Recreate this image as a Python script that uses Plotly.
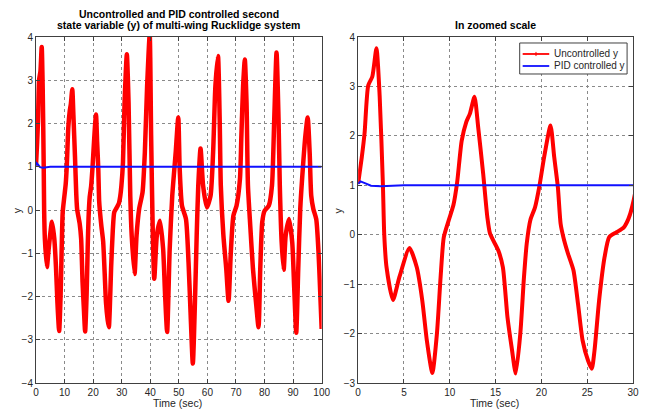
import plotly.graph_objects as go

# ---------------- data ----------------
t_unc = [0.0, 0.4, 0.7, 1.1, 1.55, 2.0, 2.35, 2.7, 2.85, 3.1, 3.8, 4.5, 5.6, 6.4, 7.0, 7.5, 8.1,
         8.6, 9.0, 9.35, 9.9, 10.4, 10.8, 11.3, 11.8, 12.2, 12.7, 13.1, 13.65, 14.1, 14.4, 15.3,
         15.8, 16.3, 16.8, 17.2, 17.7, 18.1, 18.4, 18.8, 19.3, 19.8, 20.3, 21.0, 21.4, 21.8, 22.1,
         22.4, 22.9, 23.5, 24.0, 24.5, 25.1, 25.5, 25.8, 26.3, 26.9, 27.4, 28.2, 29.0, 29.5, 29.9,
         30.45, 31.0, 31.8, 32.4, 33.0, 33.5, 34.5, 35.2, 36.1, 37.3, 38.1, 38.9, 39.8, 40.3, 40.9,
         41.4, 42.3, 43.4, 44.5, 45.2, 45.9, 46.8, 47.7, 48.9, 49.8, 50.3, 51.1, 52.5, 53.4, 54.1,
         54.9, 55.7, 56.25, 56.8, 57.6, 58.5, 59.8, 61.1, 62.0, 62.8, 63.7, 64.3, 64.7, 65.6, 66.6,
         67.4, 68.2, 69.1, 70.2, 71.4, 71.9, 72.5, 73.1, 73.7, 74.2, 75.0, 75.95, 77.1, 77.9, 78.5,
         79.2, 80.0, 81.5, 82.6, 83.4, 84.2, 84.9, 85.35, 86.0, 86.7, 87.4, 88.6, 89.7, 90.4, 91.1,
         91.8, 92.5, 93.4, 94.3, 95.1, 95.8, 96.35, 97.1, 98.1, 98.9, 99.4, 100.0]
y_unc = [1.03, 1.57, 2.05, 3.02, 3.2, 3.77, 2.8, 1.03, 0.0, -0.66, -1.32, -0.86, -0.27, -0.66, -1.33, -2.14, -2.80,
         -2.0, -0.86, -0.05, 0.3, 0.6, 1.05, 1.9, 2.28, 2.45, 2.79, 2.18, 1.23, 0.36, 0.02, -0.32,
         -0.66, -1.67, -2.34, -2.81, -2.0, -0.86, -0.18, 0.3, 0.55, 1.0, 1.57, 2.21, 1.57, 0.96, 0.22,
         -0.05, -0.38, -0.72, -1.40, -2.14, -2.55, -2.71, -2.34, -1.33, -0.45, -0.05, 0.05, 0.15, 0.32, 0.56,
         1.1, 2.48, 3.6, 2.48, 0.33, -0.59, -1.48, -0.59, 0.02, 0.41, 1.33, 2.87, 4.05, 1.72, -0.59,
         -1.59, -0.59, -0.25, -0.9, -1.98, -2.82, -0.9, 0.33, 1.33, 2.14, 0.95, 0.1, -0.21, -1.21, -2.36,
         -3.55, -1.98, -0.59, 0.56, 1.42, 0.56, 0.06, 0.33, 1.33, 2.87, 3.56, 2.1, 0.56, -0.59, -1.36,
         -2.1, -0.98, -0.13, 0.1, 0.72, 1.72, 2.87, 3.48, 2.48, 0.56, -0.36, -1.36, -2.2, -2.71, -1.36,
         -0.28, -0.02, 0.1, 0.56, 2.1, 3.64, 2.1, 0.56, -0.75, -1.38, -0.59, -0.21, -0.75, -1.82, -2.84,
         -1.36, 0.02, 0.95, 1.72, 2.14, 1.33, 0.33, 0.02, -0.21, -0.98, -1.75, -2.75]

t_pid = [0.0, 0.25, 0.8, 1.4, 2.5, 3.8, 5.0, 30.0, 100.0]
y_pid = [1.03, 1.08, 1.04, 0.99, 0.98, 0.995, 1.0, 1.0, 1.0]

x_ticks_full = [0, 10, 20, 30, 40, 50, 60, 70, 80, 90, 100]
y_ticks_full = [-4, -3, -2, -1, 0, 1, 2, 3, 4]
x_ticks_zoom = [0, 5, 10, 15, 20, 25, 30]
y_ticks_zoom = [-3, -2, -1, 0, 1, 2, 3, 4]

legend_names = ["Uncontrolled y", "PID controlled y"]

# ---------------- figure ----------------
FONT = "Liberation Sans, Arial, Helvetica, sans-serif"
RED = "#ff0000"
BLUE = "#1010ff"

fig = go.Figure()

# full view
fig.add_trace(go.Scatter(x=t_unc, y=y_unc, mode="lines", xaxis="x", yaxis="y",
                         name=legend_names[0],
                         line=dict(color=RED, width=4.5, shape="spline", smoothing=0.6),
                         showlegend=False, hoverinfo="skip"))
fig.add_trace(go.Scatter(x=t_pid, y=y_pid, mode="lines", xaxis="x", yaxis="y",
                         name=legend_names[1],
                         line=dict(color=BLUE, width=2),
                         showlegend=False, hoverinfo="skip"))
# zoomed view
fig.add_trace(go.Scatter(x=t_unc, y=y_unc, mode="lines", xaxis="x2", yaxis="y2",
                         name=legend_names[0],
                         line=dict(color=RED, width=4, shape="spline", smoothing=0.6),
                         showlegend=False, hoverinfo="skip"))
fig.add_trace(go.Scatter(x=t_pid, y=y_pid, mode="lines", xaxis="x2", yaxis="y2",
                         name=legend_names[1],
                         line=dict(color=BLUE, width=2),
                         showlegend=False, hoverinfo="skip"))

axis_common = dict(
    showline=True, linecolor="#404040", linewidth=1, mirror="ticks",
    ticks="inside", ticklen=4, tickcolor="#404040",
    showgrid=True, gridcolor="#8a8a8a", griddash="dot", gridwidth=1,
    zeroline=False, tickfont=dict(family=FONT, size=10, color="#262626"),
)

fig.update_layout(
    width=652, height=410,
    margin=dict(l=36, r=10, t=37, b=27),
    paper_bgcolor="white", plot_bgcolor="white",
    font=dict(family=FONT, size=10, color="#262626"),
    xaxis=dict(domain=[0, 0.4785], range=[0, 100], tickvals=x_ticks_full, anchor="y", **axis_common),
    yaxis=dict(domain=[0, 1], range=[-4, 4], tickvals=y_ticks_full, anchor="x", **axis_common),
    xaxis2=dict(domain=[0.5396, 1], range=[0, 30], tickvals=x_ticks_zoom, anchor="y2", **axis_common),
    yaxis2=dict(domain=[0, 1], range=[-3, 4], tickvals=y_ticks_zoom, anchor="x2", **axis_common),
    showlegend=False,
)

# titles
ann = [
    dict(text="<b>Uncontrolled and PID controlled second</b>", x=0.2393, y=1.0665),
    dict(text="<b>state variable (y) of multi-wing Rucklidge system</b>", x=0.2393, y=1.0347),
    dict(text="<b>In zoomed scale</b>", x=0.7698, y=1.0347),
]
for a in ann:
    fig.add_annotation(xref="paper", yref="paper", showarrow=False, xanchor="center", yanchor="middle",
                       font=dict(family=FONT, size=10.5, color="black"), **a)

# axis titles
labels = [
    dict(text="Time (sec)", x=0.2376, y=-0.059, textangle=0),
    dict(text="Time (sec)", x=0.7686, y=-0.059, textangle=0),
    dict(text="y", x=-0.0314, y=0.5, textangle=-90),
    dict(text="y", x=0.5066, y=0.5, textangle=-90),
]
for a in labels:
    fig.add_annotation(xref="paper", yref="paper", showarrow=False, xanchor="center", yanchor="middle",
                       font=dict(family=FONT, size=10.5, color="#262626"), **a)

# legend box (MATLAB style, compact)
fig.add_shape(type="rect", xref="paper", yref="paper", x0=0.8102, x1=0.9901, y0=0.8931, y1=0.9827,
              line=dict(color="#404040", width=1), fillcolor="white", layer="above")
leg_rows = [(0.9509, RED), (0.9162, BLUE)]
for (yy, col), name in zip(leg_rows, legend_names):
    fig.add_shape(type="line", xref="paper", yref="paper", x0=0.8152, x1=0.8597, y0=yy, y1=yy,
                  line=dict(color=col, width=1.8), layer="above")
    fig.add_annotation(xref="paper", yref="paper", x=0.8647, y=yy, text=name, showarrow=False,
                       xanchor="left", yanchor="middle",
                       font=dict(family=FONT, size=10, color="#262626"))
# '+' marker on the uncontrolled legend line
fig.add_shape(type="line", xref="paper", yref="paper", x0=0.8375, x1=0.8375, y0=0.9509 - 0.006,
              y1=0.9509 + 0.006, line=dict(color=RED, width=1), layer="above")

fig.write_html("out.html")
